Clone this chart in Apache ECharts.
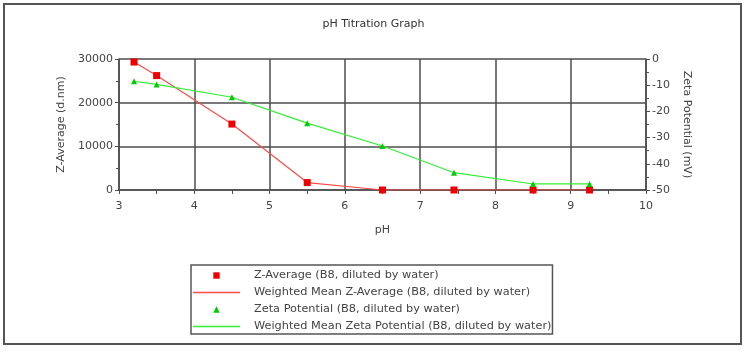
<!DOCTYPE html>
<html>
<head>
<meta charset="utf-8">
<script src="https://cdn.jsdelivr.net/npm/echarts@6/dist/echarts.min.js"></script>
<style>
  html, body { margin: 0; padding: 0; background: #fff; }
  #chart { width: 747px; height: 353px; }
</style>
</head>
<body>
<div id="chart"></div>
<script>
// pH of each measurement
var phValues = [3.2, 3.5, 4.5, 5.5, 6.5, 7.45, 8.5, 9.25];
// Z-Average size (d.nm), left axis
var zAverage = [29300, 26200, 15100, 1700, 0, 0, 0, 0];
// Zeta potential (mV), right axis
var zetaPotential = [-8.5, -9.7, -14.6, -24.5, -33.2, -43.4, -47.7, -47.7];

var seriesNames = [
  'Z-Average (B8, diluted by water)',
  'Weighted Mean Z-Average (B8, diluted by water)',
  'Zeta Potential (B8, diluted by water)',
  'Weighted Mean Zeta Potential (B8, diluted by water)'
];

var font = '"DejaVu Sans", Verdana, sans-serif';
var gridColor = '#4d4d4d';
var textColor = '#444';

function pairs(ys) {
  return phValues.map(function (x, i) { return [x, ys[i]]; });
}

var chart = echarts.init(document.getElementById('chart'));

var lineIcon = 'path://M0,0 L60,0 L60,2 L0,2 Z';

chart.setOption({
  animation: false,
  backgroundColor: '#fff',
  textStyle: { fontFamily: font },
  title: {
    text: 'pH Titration Graph',
    left: 'center',
    top: 14,
    textStyle: { fontSize: 11, fontWeight: 'normal', color: '#333', fontFamily: font }
  },
  grid: { left: 119, right: 101, top: 59, bottom: 163 },
  xAxis: {
    type: 'value',
    min: 3,
    max: 10,
    interval: 1,
    name: 'pH',
    nameLocation: 'middle',
    nameGap: 35,
    nameTextStyle: { fontSize: 11, color: textColor },
    axisLine: { lineStyle: { color: gridColor, width: 1.5 } },
    axisTick: { show: true, length: 4, lineStyle: { color: gridColor } },
    minorTick: { show: true, splitNumber: 2, length: 4, lineStyle: { color: gridColor } },
    axisLabel: { fontSize: 11, color: textColor, margin: 11 },
    splitLine: { show: true, lineStyle: { color: gridColor, width: 1.5 } }
  },
  yAxis: [
    {
      type: 'value',
      min: 0,
      max: 30000,
      interval: 10000,
      name: 'Z-Average (d.nm)',
      nameLocation: 'middle',
      nameGap: 48,
      nameTextStyle: { fontSize: 11, color: textColor },
      axisLine: { show: true, lineStyle: { color: gridColor, width: 1.5 } },
      axisTick: { show: true, length: 4, lineStyle: { color: gridColor } },
      minorTick: { show: true, splitNumber: 2, length: 3, lineStyle: { color: gridColor } },
      axisLabel: { fontSize: 11, color: textColor, margin: 6, formatter: function (v) { return String(v); } },
      splitLine: { show: true, lineStyle: { color: gridColor, width: 1.5 } }
    },
    {
      type: 'value',
      position: 'right',
      min: -50,
      max: 0,
      interval: 10,
      name: 'Zeta Potential (mV)',
      nameLocation: 'middle',
      nameGap: 30,
      nameRotate: -90,
      nameTextStyle: { fontSize: 11, color: textColor },
      axisLine: { show: true, lineStyle: { color: gridColor, width: 1.5 } },
      axisTick: { show: true, length: 4, lineStyle: { color: gridColor } },
      minorTick: { show: true, splitNumber: 2, length: 3, lineStyle: { color: gridColor } },
      axisLabel: { fontSize: 11, color: textColor, margin: 6 },
      splitLine: { show: false }
    }
  ],
  legend: {
    orient: 'vertical',
    left: 191,
    top: 265,
    padding: [5, 1, 2, 2],
    itemGap: 6,
    itemWidth: 47,
    itemHeight: 8,
    borderColor: '#555',
    borderWidth: 1.5,
    textStyle: { fontSize: 11.3, color: textColor, fontFamily: font, padding: [0, 0, 0, 9] },
    data: [
      { name: seriesNames[0] },
      { name: seriesNames[1], icon: lineIcon },
      { name: seriesNames[2] },
      { name: seriesNames[3], icon: lineIcon }
    ]
  },
  graphic: [
    {
      type: 'rect',
      shape: { x: 4, y: 4, width: 737, height: 340 },
      style: { fill: 'none', stroke: '#555', lineWidth: 2 },
      silent: true
    }
  ],
  series: [
    {
      name: seriesNames[1],
      type: 'line',
      yAxisIndex: 0,
      data: pairs(zAverage),
      showSymbol: false,
      symbol: 'none',
      color: '#ff4a4a',
      lineStyle: { width: 1.2, color: '#ff4a4a' },
      z: 3
    },
    {
      name: seriesNames[3],
      type: 'line',
      yAxisIndex: 1,
      data: pairs(zetaPotential),
      showSymbol: false,
      symbol: 'none',
      color: '#33ee33',
      lineStyle: { width: 1.2, color: '#33ee33' },
      z: 3
    },
    {
      // markers only: a line series with an invisible line
      name: seriesNames[0],
      type: 'line',
      yAxisIndex: 0,
      data: pairs(zAverage),
      symbol: 'rect',
      symbolSize: 7,
      showSymbol: true,
      lineStyle: { width: 0 },
      itemStyle: { color: '#ee0000' },
      z: 4
    },
    {
      name: seriesNames[2],
      type: 'line',
      yAxisIndex: 1,
      data: pairs(zetaPotential),
      symbol: 'triangle',
      symbolSize: 6,
      showSymbol: true,
      lineStyle: { width: 0 },
      itemStyle: { color: '#00cc00' },
      z: 4
    }
  ]
});
</script>
</body>
</html>
